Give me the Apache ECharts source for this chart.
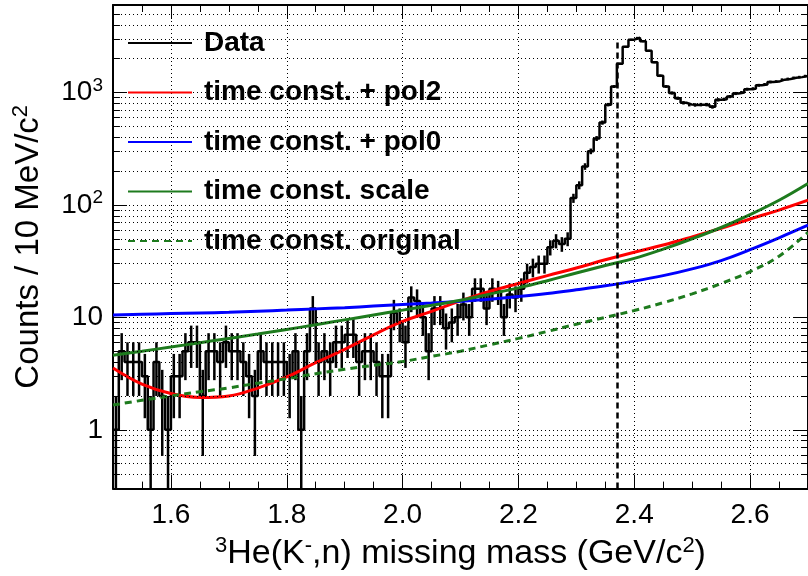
<!DOCTYPE html>
<html><head><meta charset="utf-8">
<script src="https://cdn.jsdelivr.net/npm/echarts@6/dist/echarts.min.js"></script>
<style>html,body{margin:0;padding:0;background:#fff}#c{width:808px;height:576px}</style>
</head><body><div id="c"></div>
<script>
// ---- data ----
const binStart = 1.5;      // GeV/c^2, left edge of first bin
const binWidth = 0.01;     // 10 MeV bins
const counts = [
  1,5,4,4,4,3,1,4,2,1,
  3,3,5,6,6,2,5,5,4,6,
  5,5,4,3,2,5,4,4,4,4,
  3,5,1,5,12,4,5,4,6,6,
  7,7,4,5,5,4,3,3,11,9,
  6,15,14,10,5,12,12,8,9,10,
  13,10,18,18,12,18,17,10,16,15,
  18,25,28,30,30,42,48,45,50,115,
  150,220,300,390,540,780,1130,1800,2550,2950,
  3070,2850,2350,1860,1410,1130,990,890,810,780,
  775,780,780,745,860,870,920,980,1000,1070,
  1080,1160,1180,1240,1250,1300,1320,1350,1370,1400
];
const curveX = [1.50,1.55,1.60,1.65,1.70,1.75,1.80,1.85,1.90,1.95,2.00,2.05,2.10,2.15,2.20,2.25,2.30,2.35,2.40,2.45,2.50,2.55,2.60,2.65,2.70];
const pol2Fit  = [3.55,2.55,2.1,1.94,2.0,2.35,2.95,3.95,5.2,7.0,9.2,11.3,14.0,17.0,20.0,23.5,27.5,32.5,38,44,52,62,75,90,110];
const pol0Fit  = [10.5,10.65,10.8,10.95,11.1,11.35,11.6,11.9,12.2,12.6,13.0,13.4,13.9,14.5,15.3,16.3,17.6,19.1,21,23.5,27,32,40,51,66];
const scaleFit = [4.6,5.0,5.45,5.95,6.5,7.1,7.8,8.6,9.5,10.5,11.6,12.8,14.2,16.1,18.3,21.2,24.8,28.9,33.5,40.5,50,63,82,110,155];
const origFit  = [1.66,1.83,2.0,2.18,2.36,2.6,2.85,3.15,3.45,3.75,4.05,4.5,5.0,5.7,6.5,7.5,8.7,10.0,11.5,13.5,16.2,20,25.5,35,57];
const thresholdX = 2.37, thresholdTop = 2900;
const seriesNames = ['Data','time const. + pol2','time const. + pol0','time const. scale','time const. original'];
const xMin = 1.5, xMax = 2.7, yMin = 0.3, yMax = 6000;

// ---- build ----
const FONT = "'Liberation Sans', Arial, Helvetica, sans-serif";
const histLine = counts.map((c,i)=>[+(binStart+binWidth*i).toFixed(3), c]);
histLine.push([+(binStart+binWidth*counts.length).toFixed(3), counts[counts.length-1]]);
const errData = counts.map((c,i)=>[+(binStart+binWidth*(i+0.5)).toFixed(4), Math.max(c-Math.sqrt(c), yMin), c+Math.sqrt(c)]);
const zip = ys => curveX.map((x,i)=>[x, ys[i]]);

const minorVals = [];
for (let d=-1; d<=3; d++) for (let m=2; m<=9; m++) { const v=m*Math.pow(10,d); if (v>yMin*1.001 && v<yMax*0.999) minorVals.push(+v.toPrecision(3)); }
const tickLen = 0.012;
const markData = [];
minorVals.forEach(v=>markData.push({yAxis:v, lineStyle:{type:[1,3], width:1, color:'#000'}}));
minorVals.forEach(v=>markData.push([{coord:[xMin,v]},{coord:[xMin+tickLen,v], lineStyle:{type:'solid', width:1, color:'#000'}}]));
minorVals.forEach(v=>markData.push([{coord:[xMax-tickLen,v]},{coord:[xMax,v], lineStyle:{type:'solid', width:1, color:'#000'}}]));
markData.push([{coord:[thresholdX,yMin]},{coord:[thresholdX,thresholdTop], lineStyle:{type:[6,4], width:2.5, color:'#000'}}]);

const supLabel = v => {
  const e = Math.round(Math.log10(v));
  if (e === 0) return '{b|1}';
  if (e === 1) return '{b|10}';
  return '{b|10}{s|' + e + '}';
};
const axisText = {color:'#000', fontFamily:FONT};

const chart = echarts.init(document.getElementById('c'), null, {renderer:'canvas'});
chart.setOption({
  animation:false,
  backgroundColor:'#fff',
  grid:{left:113, top:5, width:698, height:494, containLabel:false},
  legend:{
    orient:'vertical', left:127, top:29, padding:0, itemWidth:64, itemHeight:14, itemGap:21.5,
    selectedMode:false, data:seriesNames,
    itemStyle:{opacity:0},
    textStyle:{fontSize:28, fontWeight:'bold', color:'#000', fontFamily:FONT, padding:[0,0,0,7]}
  },
  xAxis:[
    {type:'value', position:'bottom', min:xMin, max:xMax, splitNumber:6, minInterval:0.2, maxInterval:0.2,
     axisLine:{lineStyle:{color:'#000', width:2}}, axisTick:{inside:true, length:14, lineStyle:{color:'#000', width:1}},
     axisLabel:Object.assign({fontSize:28, margin:13, showMinLabel:false, showMaxLabel:false, formatter:v=>v.toFixed(1)}, axisText),
     splitLine:{show:true, lineStyle:{type:[1,3], color:'#000', width:1}},
     name:'{s|3}{t|He(K}{s|-}{t|,n) missing mass (GeV/c}{s|2}{t|)}', nameLocation:'middle', nameGap:41,
     nameTextStyle:{rich:{t:{fontSize:34, color:'#000', fontFamily:FONT}, s:{fontSize:22, color:'#000', fontFamily:FONT, padding:[0,0,17,0]}}}},
    {type:'value', position:'bottom', min:xMin, max:xMax, interval:0.05,
     axisLine:{show:false}, axisTick:{inside:true, length:7, lineStyle:{color:'#000', width:1}}, axisLabel:{show:false}, splitLine:{show:false}},
    {type:'value', position:'top', min:xMin, max:xMax, splitNumber:6, minInterval:0.2, maxInterval:0.2,
     axisLine:{lineStyle:{color:'#000', width:2}}, axisTick:{inside:true, length:14, lineStyle:{color:'#000', width:1}}, axisLabel:{show:false}, splitLine:{show:false}},
    {type:'value', position:'top', min:xMin, max:xMax, interval:0.05,
     axisLine:{show:false}, axisTick:{inside:true, length:7, lineStyle:{color:'#000', width:1}}, axisLabel:{show:false}, splitLine:{show:false}}
  ],
  yAxis:[
    {type:'log', logBase:10, position:'left', min:yMin, max:yMax, splitNumber:4,
     axisLine:{show:true, lineStyle:{color:'#000', width:2}}, axisTick:{show:true, inside:true, length:14, lineStyle:{color:'#000', width:1}},
     axisLabel:{margin:10, showMinLabel:false, showMaxLabel:false, formatter:supLabel,
       rich:{b:{fontSize:28, color:'#000', fontFamily:FONT}, s:{fontSize:19, color:'#000', fontFamily:FONT, padding:[0,0,14,0]}}},
     splitLine:{show:true, lineStyle:{type:[1,3], color:'#000', width:1}},
     name:'{t|Counts / 10 MeV/c}{s|2}', nameLocation:'middle', nameGap:65, nameRotate:90,
     nameTextStyle:{rich:{t:{fontSize:33, color:'#000', fontFamily:FONT}, s:{fontSize:22, color:'#000', fontFamily:FONT, padding:[0,0,16,0]}}}},
    {type:'log', logBase:10, position:'right', min:yMin, max:yMax, splitNumber:4,
     axisLine:{show:true, lineStyle:{color:'#000', width:2}}, axisTick:{show:true, inside:true, length:14, lineStyle:{color:'#000', width:1}},
     axisLabel:{show:false}, splitLine:{show:false}}
  ],
  series:[
    {type:'line', name:'_grid', data:[], silent:true, z:1,
     markLine:{silent:true, symbol:['none','none'], label:{show:false}, animation:false, data:markData}},
    {type:'custom', name:'_err', silent:true, z:3, data:errData, encode:{x:0, y:[1,2]},
     renderItem:(params, api)=>{
       const p1 = api.coord([api.value(0), api.value(1)]);
       const p2 = api.coord([api.value(0), api.value(2)]);
       return {type:'line', shape:{x1:p1[0], y1:p1[1], x2:p2[0], y2:p2[1]}, style:{stroke:'#000', lineWidth:2.5}};
     }},
    {type:'line', name:seriesNames[0], data:histLine, step:'end', symbol:'none', z:3,
     lineStyle:{color:'#000', width:2.5}, itemStyle:{color:'#000'}},
    {type:'line', name:seriesNames[1], data:zip(pol2Fit), smooth:0.4, symbol:'none', z:4,
     lineStyle:{color:'#ff0000', width:3}, itemStyle:{color:'#ff0000'}},
    {type:'line', name:seriesNames[2], data:zip(pol0Fit), smooth:0.4, symbol:'none', z:4,
     lineStyle:{color:'#0000ff', width:3}, itemStyle:{color:'#0000ff'}},
    {type:'line', name:seriesNames[3], data:zip(scaleFit), smooth:0.4, symbol:'none', z:4,
     lineStyle:{color:'#1e7b1e', width:3}, itemStyle:{color:'#1e7b1e'}},
    {type:'line', name:seriesNames[4], data:zip(origFit), smooth:0.4, symbol:'none', z:4,
     lineStyle:{color:'#1e7b1e', width:3, type:[7,5]}, itemStyle:{color:'#1e7b1e'}}
  ]
});
</script></body></html>
